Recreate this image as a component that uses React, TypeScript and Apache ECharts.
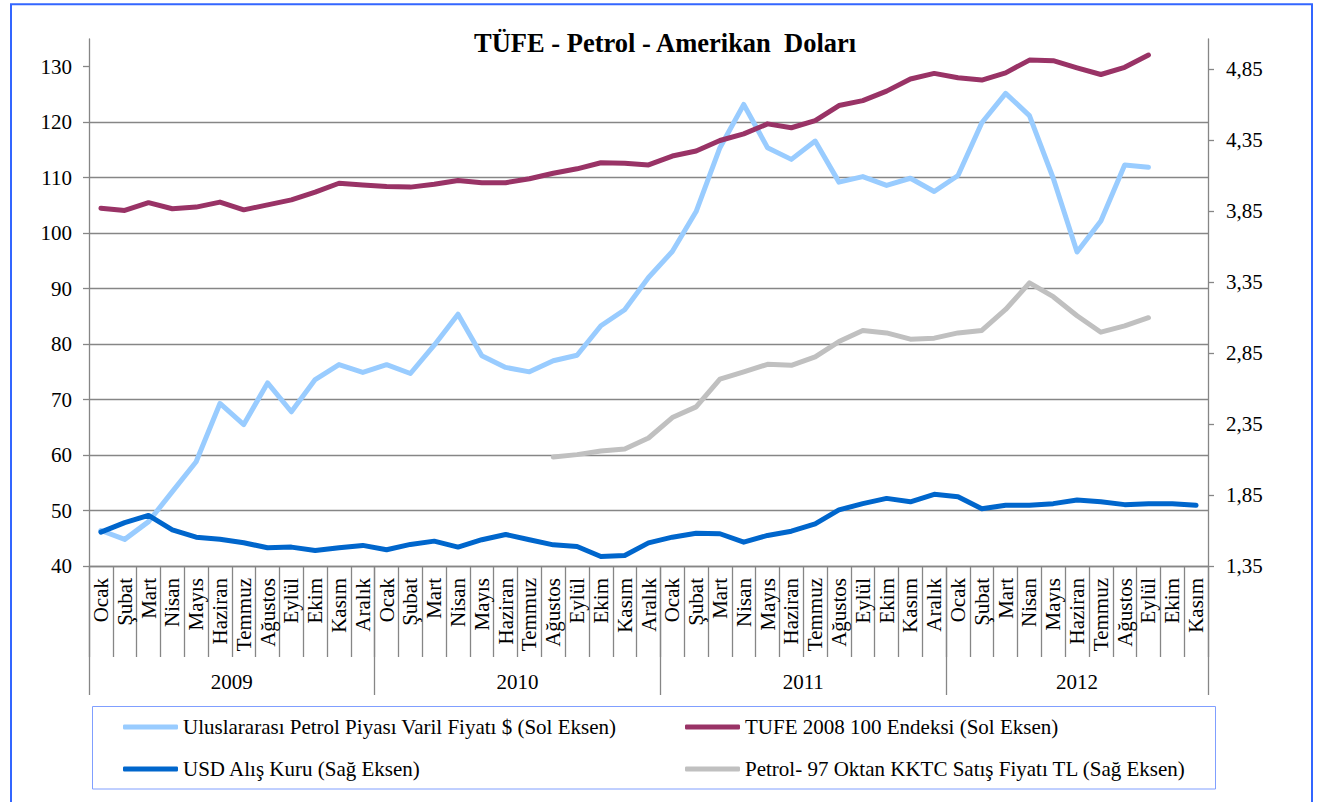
import React, { useEffect, useRef } from 'react';
import * as echarts from 'echarts';

const monthNames = ['Ocak', 'Şubat', 'Mart', 'Nisan', 'Mayıs', 'Haziran', 'Temmuz', 'Ağustos', 'Eylül', 'Ekim', 'Kasım', 'Aralık'];
const yearNames = ['2009', '2010', '2011', '2012'];
const monthsPerYear = [12, 12, 12, 11];

const leftTicks = [40, 50, 60, 70, 80, 90, 100, 110, 120, 130];
const rightTicks = [1.35, 1.85, 2.35, 2.85, 3.35, 3.85, 4.35, 4.85];

const titleText = 'TÜFE - Petrol - Amerikan  Doları';
const oilName = 'Uluslararası Petrol Piyası Varil Fiyatı $ (Sol Eksen)';
const tufeName = 'TUFE 2008 100 Endeksi (Sol Eksen)';
const usdName = 'USD Alış Kuru (Sağ Eksen)';
const petrolName = 'Petrol- 97 Oktan KKTC Satış Fiyatı TL (Sağ Eksen)';

const oilPrice = [
  46.4, 44.8, 48.0, 53.4, 58.8, 69.3, 65.5, 73.0, 67.8, 73.6, 76.3, 74.9,
  76.3, 74.7, 79.8, 85.4, 77.9, 75.8, 75.0, 77.0, 78.0, 83.3, 86.2, 92.0,
  96.7, 103.9, 115.4, 123.2, 115.4, 113.3, 116.6, 109.2, 110.2, 108.6, 109.9, 107.5,
  110.4, 119.9, 125.2, 121.2, 109.9, 96.6, 102.2, 112.3, 111.9, null, null,
];
const tufeIndex = [
  104.5, 104.1, 105.5, 104.4, 104.7, 105.6, 104.2, 105.1, 106.0, 107.4, 109.0, 108.7,
  108.4, 108.3, 108.8, 109.5, 109.1, 109.1, 109.8, 110.8, 111.6, 112.7, 112.6, 112.3,
  113.9, 114.8, 116.7, 117.9, 119.7, 119.0, 120.3, 123.0, 123.9, 125.6, 127.8, 128.8,
  128.0, 127.6, 128.9, 131.2, 131.1, 129.8, 128.6, 129.9, 132.1, null, null,
];
const usdRate = [
  1.588, 1.655, 1.706, 1.605, 1.553, 1.539, 1.514, 1.478, 1.483, 1.459, 1.478, 1.495,
  1.464, 1.502, 1.525, 1.483, 1.535, 1.572, 1.535, 1.499, 1.487, 1.417, 1.424, 1.513,
  1.553, 1.581, 1.577, 1.518, 1.565, 1.595, 1.647, 1.745, 1.789, 1.826, 1.802, 1.855,
  1.838, 1.753, 1.777, 1.777, 1.789, 1.814, 1.802, 1.782, 1.789, 1.789, 1.777,
];
const petrolTL = [
  null, null, null, null, null, null, null, null, null, null, null, null,
  null, null, null, null, null, null, null, 2.117, 2.134, 2.159, 2.173, 2.251,
  2.395, 2.47, 2.665, 2.716, 2.77, 2.763, 2.822, 2.93, 3.008, 2.991, 2.947, 2.954,
  2.991, 3.008, 3.156, 3.343, 3.246, 3.112, 2.996, 3.04, 3.098, null, null,
];

const FONT = '"Liberation Serif", "Times New Roman", serif';
const AXIS_GRAY = '#868686';

export default function App() {
  const ref = useRef<HTMLDivElement>(null);

  useEffect(() => {
    if (!ref.current) return;
    const chart = echarts.init(ref.current, undefined, { renderer: 'svg' });

    const categories: string[] = [];
    monthsPerYear.forEach((n) => {
      for (let m = 0; m < n; m++) categories.push(monthNames[m]);
    });
    const totalMonths = categories.length;
    const yearSlots: string[] = new Array(totalMonths * 2 + 1).fill('');
    const boundarySlots: number[] = [];
    const centerSlots: number[] = [];
    let start = 0;
    monthsPerYear.forEach((n, y) => {
      boundarySlots.push(start * 2);
      const c = start * 2 + n;
      centerSlots.push(c);
      yearSlots[c] = yearNames[y];
      start += n;
    });
    boundarySlots.push(start * 2);

    const lineSeries = (name: string, data: (number | null)[], color: string, yAxisIndex: number) => ({
      name,
      type: 'line',
      data,
      yAxisIndex,
      xAxisIndex: 0,
      symbol: 'none',
      showSymbol: false,
      smooth: false,
      connectNulls: false,
      lineStyle: { color, width: 5, cap: 'round', join: 'round' },
      itemStyle: { color },
    });

    const textBase = { fontFamily: FONT, fontSize: 21, color: '#000' };

    const legendBase = {
      orient: 'vertical',
      top: 715,
      padding: 0,
      icon: 'roundRect',
      itemWidth: 55,
      itemHeight: 5,
      itemGap: 18,
      textStyle: { ...textBase, lineHeight: 24 },
    };

    chart.setOption({
      animation: false,
      backgroundColor: '#fff',
      title: {
        text: titleText,
        left: 469,
        top: 24,
        textStyle: { fontFamily: FONT, fontSize: 26.5, fontWeight: 'bold', color: '#000' },
      },
      grid: { left: 89, right: 120, top: 39, bottom: 236, containLabel: false },
      legend: [
        { ...legendBase, data: [oilName, usdName], left: 123 },
        { ...legendBase, data: [tufeName, petrolName], left: 685 },
      ],
      xAxis: [
        {
          type: 'category',
          data: categories,
          boundaryGap: true,
          position: 'bottom',
          axisLine: { show: true, lineStyle: { color: AXIS_GRAY, width: 1.3 } },
          axisTick: { show: true, interval: 0, length: 91, lineStyle: { color: AXIS_GRAY, width: 1.3 } },
          axisLabel: { ...textBase, interval: 0, rotate: 90, margin: 12 },
          splitLine: { show: false },
        },
        {
          type: 'category',
          data: yearSlots,
          boundaryGap: false,
          position: 'bottom',
          axisLine: { show: false },
          axisTick: {
            show: true,
            interval: (i: number) => boundarySlots.includes(i),
            length: 129,
            lineStyle: { color: AXIS_GRAY, width: 1.3 },
          },
          axisLabel: { ...textBase, interval: (i: number) => centerSlots.includes(i), margin: 105 },
          splitLine: { show: false },
        },
      ],
      yAxis: [
        {
          type: 'value',
          position: 'left',
          min: 40,
          max: 135,
          interval: 10,
          axisLine: { show: true, lineStyle: { color: AXIS_GRAY, width: 1.3 } },
          axisTick: { show: true, length: 6, customValues: leftTicks, lineStyle: { color: AXIS_GRAY, width: 1.3 } },
          axisLabel: { ...textBase, margin: 17, customValues: leftTicks },
          splitLine: { show: true, showMaxLine: false, lineStyle: { color: AXIS_GRAY, width: 1.3 } },
        },
        {
          type: 'value',
          position: 'right',
          min: 1.35,
          max: 5.06,
          interval: 0.5,
          axisLine: { show: true, lineStyle: { color: AXIS_GRAY, width: 1.3 } },
          axisTick: { show: true, length: 6, customValues: rightTicks, lineStyle: { color: AXIS_GRAY, width: 1.3 } },
          axisLabel: {
            ...textBase,
            margin: 18,
            customValues: rightTicks,
            formatter: (v: number) => v.toFixed(2).replace('.', ','),
          },
          splitLine: { show: false },
        },
      ],
      series: [
        lineSeries(oilName, oilPrice, '#99CCFF', 0),
        lineSeries(tufeName, tufeIndex, '#993366', 0),
        lineSeries(usdName, usdRate, '#0066CC', 1),
        lineSeries(petrolName, petrolTL, '#C0C0C0', 1),
      ],
      graphic: [
        {
          type: 'rect',
          shape: { x: 11, y: 4.3, width: 1301, height: 820 },
          style: { fill: 'none', stroke: '#3366FF', lineWidth: 2 },
          silent: true,
        },
        {
          type: 'rect',
          shape: { x: 92.5, y: 706.5, width: 1123, height: 82.5 },
          style: { fill: 'none', stroke: '#809FFF', lineWidth: 1 },
          silent: true,
        },
      ],
    });

    return () => chart.dispose();
  }, []);

  return (
    <div
      ref={ref}
      style={{ position: 'fixed', left: 0, top: 0, width: 1328, height: 802, background: '#fff' }}
    />
  );
}
